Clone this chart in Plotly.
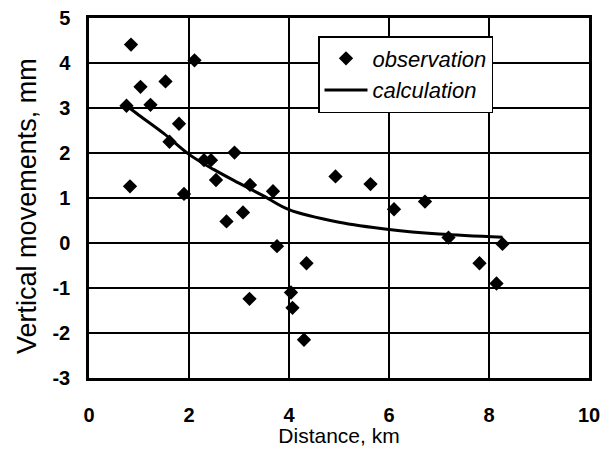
import plotly.graph_objects as go

obs_x = [0.84, 2.11, 1.03, 1.53, 0.75, 1.23, 1.80, 1.61, 2.91, 2.30, 2.44, 2.54, 3.22, 3.68,
         0.82, 1.90, 3.08, 2.75, 3.76, 4.35, 3.21, 4.04, 4.07, 4.30, 4.93, 5.63, 6.10, 6.72,
         7.19, 8.27, 7.81, 8.15]
obs_y = [4.41, 4.06, 3.47, 3.59, 3.05, 3.07, 2.65, 2.25, 2.01, 1.84, 1.84, 1.40, 1.29, 1.15,
         1.26, 1.09, 0.68, 0.48, -0.07, -0.45, -1.24, -1.10, -1.44, -2.15, 1.48, 1.31, 0.75, 0.92,
         0.12, -0.02, -0.45, -0.90]

calc_x = [0.75, 1.0, 1.5, 2.0, 2.5, 3.0, 3.5, 4.0, 5.0, 6.0, 7.0, 8.27]
calc_y = [3.05, 2.84, 2.43, 1.97, 1.63, 1.33, 1.04, 0.74, 0.46, 0.30, 0.20, 0.13]

x_ticks = [0, 2, 4, 6, 8, 10]
x_labels = ["0", "2", "4", "6", "8", "10"]
y_ticks = [-3, -2, -1, 0, 1, 2, 3, 4, 5]
y_labels = ["-3", "-2", "-1", "0", "1", "2", "3", "4", "5"]

font = "Liberation Sans, Arial, sans-serif"

fig = go.Figure()
fig.add_trace(go.Scatter(x=obs_x, y=obs_y, mode="markers", name="observation",
                         legendgroup="a",
                         marker=dict(symbol="diamond", size=11, color="black")))
fig.add_trace(go.Scatter(x=calc_x, y=calc_y, mode="lines", name="calculation",
                         legendgroup="b",
                         line=dict(color="black", width=3, shape="spline")))

# page has an 8px body margin, so the figure is a bit smaller and shifted
fig.update_layout(
    width=592, height=439,
    margin=dict(l=81, r=11, t=10, b=69, autoexpand=False),
    paper_bgcolor="white", plot_bgcolor="white",
    font=dict(family=font, color="black", size=20),
    showlegend=True,
    legend=dict(x=0.458, y=0.95, xanchor="left", yanchor="top",
                bgcolor="white", bordercolor="black", borderwidth=1.5,
                font=dict(size=22, family=font, style="italic"),
                tracegroupgap=0, itemwidth=43),
    annotations=[dict(text="Vertical movements, mm", textangle=-90,
                      xref="paper", yref="paper", x=-0.124, y=0.478,
                      xanchor="center", yanchor="middle", showarrow=False,
                      font=dict(size=27, family=font))],
)
fig.update_xaxes(range=[0, 10], tickvals=x_ticks, ticktext=x_labels, ticks="",
                 showgrid=True, gridcolor="black", gridwidth=1.5, showline=True,
                 linecolor="black", linewidth=2.5, mirror=True, zeroline=False,
                 ticklabelstandoff=17, automargin=False, ticklabeloverflow="allow",
                 tickfont=dict(size=20, family=font, weight="bold"),
                 title=dict(text="Distance, km", font=dict(size=21, family=font), standoff=4))
fig.update_yaxes(range=[-3, 5], tickvals=y_ticks, ticktext=y_labels, ticks="",
                 showgrid=True, gridcolor="black", gridwidth=1.5, showline=True,
                 linecolor="black", linewidth=2.5, mirror=True, zeroline=False,
                 ticklabelstandoff=12, automargin=False, ticklabeloverflow="allow",
                 tickfont=dict(size=20, family=font, weight="bold"))

fig.write_html("out.html")
